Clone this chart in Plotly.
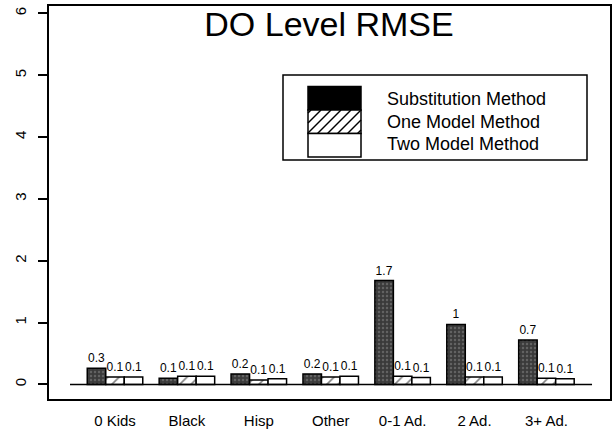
import plotly.graph_objects as go

categories = ["0 Kids", "Black", "Hisp", "Other", "0-1 Ad.", "2 Ad.", "3+ Ad."]
series_names = ["Substitution Method", "One Model Method", "Two Model Method"]
substitution = [0.26, 0.10, 0.17, 0.17, 1.68, 0.97, 0.72]
one_model = [0.12, 0.13, 0.07, 0.12, 0.13, 0.12, 0.10]
two_model = [0.12, 0.13, 0.09, 0.13, 0.11, 0.12, 0.09]
sub_labels = ["0.3", "0.1", "0.2", "0.2", "1.7", "1", "0.7"]
one_labels = ["0.1"] * 7
two_labels = ["0.1"] * 7
y_ticks = [0, 1, 2, 3, 4, 5, 6]
title_text = "DO Level RMSE"

FONT = "Liberation Sans, Arial, Helvetica, sans-serif"
W, H = 613, 434
ML, MR, MT, MB = 49, 3, 6, 35
PW, PH = W - ML - MR, H - MT - MB


def px_x(p):
    return (p - ML) / PW


def px_y(p):
    return (H - MB - p) / PH


fig = go.Figure()
fig.add_bar(
    x=categories, y=substitution, name=series_names[0], text=sub_labels,
    marker=dict(color="#3a3a3a", line=dict(color="black", width=1.5),
                pattern=dict(shape=".", fgcolor="#8a8a8a", bgcolor="#3a3a3a", size=4, solidity=0.3)),
)
fig.add_bar(
    x=categories, y=one_model, name=series_names[1], text=one_labels,
    marker=dict(color="white", line=dict(color="black", width=1.5),
                pattern=dict(shape="/", fgcolor="black", bgcolor="white", size=8, solidity=0.2)),
)
fig.add_bar(
    x=categories, y=two_model, name=series_names[2], text=two_labels,
    marker=dict(color="white", line=dict(color="black", width=1.5)),
)
fig.update_traces(textposition="outside", cliponaxis=False, constraintext="none",
                  textfont=dict(family=FONT, size=12, color="black"), showlegend=False,
                  hoverinfo="skip")

shapes = []
# baseline at y = 0
shapes.append(dict(type="line", xref="x", yref="y", x0=-0.626, x1=6.634, y0=0, y1=0,
                   line=dict(color="black", width=1.5)))

# custom legend
shapes.append(dict(type="rect", xref="paper", yref="paper",
                   x0=px_x(283), x1=px_x(587), y0=px_y(160), y1=px_y(75),
                   line=dict(color="black", width=1.5), fillcolor="white"))
sx0, sx1 = 308, 361
rows = [(86.5, 110), (110, 133.5), (133.5, 157)]
fills = ["black", "white", "white"]
for (t, b), f in zip(rows, fills):
    shapes.append(dict(type="rect", xref="paper", yref="paper",
                       x0=px_x(sx0), x1=px_x(sx1), y0=px_y(b), y1=px_y(t),
                       line=dict(color="black", width=1.5), fillcolor=f))
# hatch lines in the second swatch
t, b = rows[1]
h = b - t
step = 10
start = sx0 - h + 3
xs = start
while xs < sx1:
    xa, ya = xs, b
    xb, yb = xs + h, t
    if xa < sx0:
        ya = b - (sx0 - xa)
        xa = sx0
    if xb > sx1:
        yb = t + (xb - sx1)
        xb = sx1
    if xb > xa:
        shapes.append(dict(type="line", xref="paper", yref="paper",
                           x0=px_x(xa), y0=px_y(ya), x1=px_x(xb), y1=px_y(yb),
                           line=dict(color="black", width=1.5)))
    xs += step

annotations = []
text_y = [99.3, 121.7, 144]
for name, ty in zip(series_names, text_y):
    annotations.append(dict(xref="paper", yref="paper", x=px_x(385), y=px_y(ty),
                            text=name, showarrow=False, xanchor="left", yanchor="middle",
                            font=dict(family=FONT, size=18, color="black")))

fig.update_layout(
    width=W, height=H,
    margin=dict(l=ML, r=MR, t=MT, b=MB, autoexpand=False),
    paper_bgcolor="white", plot_bgcolor="white",
    barmode="group", bargap=0.228, bargroupgap=0,
    title=dict(text=title_text, x=329 / W, xanchor="center", y=1 - 24 / H, yanchor="middle",
               font=dict(family=FONT, size=34, color="black")),
    shapes=shapes, annotations=annotations,
    font=dict(family=FONT, color="black"),
)
fig.update_xaxes(range=[-0.918, 6.884], showline=True, mirror=True, linecolor="black", linewidth=2,
                 ticks="", showgrid=False, zeroline=False, ticklabelstandoff=7, automargin=False,
                 tickfont=dict(family=FONT, size=15, color="black"))
fig.update_yaxes(range=[-0.236, 6.12], tickvals=y_ticks, showline=True, mirror=True, linecolor="black",
                 linewidth=2, ticks="outside", ticklen=9, tickwidth=1.5, tickcolor="black",
                 showgrid=False, zeroline=False, tickangle=-90, ticklabelstandoff=6, automargin=False,
                 tickfont=dict(family=FONT, size=15, color="black"))

fig.write_html("out.html", config={"displayModeBar": False},
               post_script="document.body.style.margin='0';document.body.style.overflow='hidden';")
